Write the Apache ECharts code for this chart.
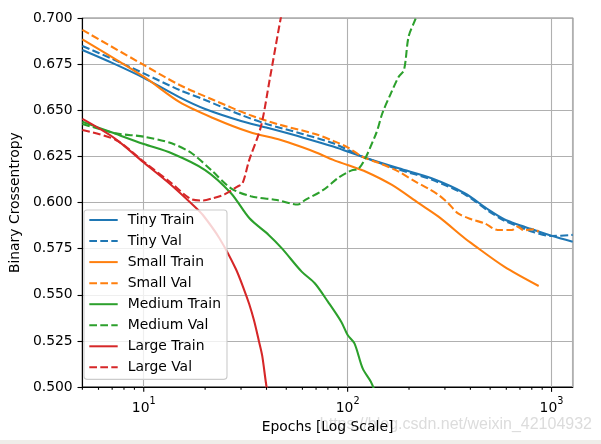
<!DOCTYPE html>
<html>
<head>
<meta charset="utf-8">
<script src="https://cdn.jsdelivr.net/npm/echarts@6/dist/echarts.min.js"></script>
<style>html,body{margin:0;padding:0;background:#fff;}#c{width:601px;height:444px;}</style>
</head>
<body>
<div id="c"></div>
<script>
// ---- data ----
const tinyEpochs = [5, 7, 10, 15, 20, 30, 40, 60, 85, 118, 178, 258, 375, 490, 585, 705, 790, 1000, 1270];
const tinyTrain  = [0.6828, 0.6758, 0.6677, 0.6571, 0.6508, 0.6443, 0.6407, 0.6354, 0.6304, 0.6249, 0.6186, 0.6132, 0.6051, 0.5962, 0.5910, 0.5876, 0.5858, 0.5820, 0.5788];
const tinyVal    = [0.6850, 0.6780, 0.6701, 0.6611, 0.6557, 0.6476, 0.6427, 0.6373, 0.6322, 0.6250, 0.6180, 0.6125, 0.6045, 0.5955, 0.5903, 0.5866, 0.5845, 0.5819, 0.5825];

const smallTrainEpochs = [5, 10, 15, 22, 33, 47, 60, 70, 85, 100, 123, 165, 223, 279, 375, 404, 586, 865];
const smallTrain       = [0.6886, 0.6683, 0.6545, 0.6458, 0.6383, 0.6340, 0.6300, 0.6272, 0.6232, 0.6204, 0.6168, 0.6096, 0.5997, 0.5924, 0.5807, 0.5780, 0.5653, 0.5548];
const smallValEpochs = [5, 10, 15, 22, 33, 47, 70, 85, 100, 118, 145, 178, 215, 250, 279, 311, 348, 404, 469, 544, 640, 680, 732, 818, 865];
const smallVal       = [0.6937, 0.6747, 0.6638, 0.6557, 0.6476, 0.6421, 0.6371, 0.6335, 0.6300, 0.6249, 0.6212, 0.6168, 0.6114, 0.6075, 0.6042, 0.5997, 0.5942, 0.5910, 0.5888, 0.5852, 0.5852, 0.5870, 0.5850, 0.5856, 0.5843];

const mediumTrainEpochs = [5, 7, 10, 13.7, 20, 26.8, 33, 41, 47.6, 59.5, 69, 80, 93, 100, 108, 118.5, 130, 134, 140];
const mediumTrain       = [0.6439, 0.6380, 0.6318, 0.6268, 0.6177, 0.6051, 0.5915, 0.5825, 0.5752, 0.5626, 0.5563, 0.5463, 0.5354, 0.5282, 0.5237, 0.5101, 0.5029, 0.4995, 0.4960];
const mediumValEpochs = [5, 7.3, 10, 13.7, 17.2, 21.4, 26.8, 33.5, 45, 57, 62, 76, 90, 100, 106, 112, 137, 148, 163, 178, 189, 199, 215, 225];
const mediumVal       = [0.6427, 0.6376, 0.6358, 0.6322, 0.6268, 0.6177, 0.6078, 0.6035, 0.6014, 0.5990, 0.6015, 0.6069, 0.6135, 0.6165, 0.6177, 0.6180, 0.6367, 0.6485, 0.6593, 0.6683, 0.6720, 0.6900, 0.6995, 0.7060];

const largeTrainEpochs = [5, 7.2, 10, 13.5, 17.8, 19.5, 23.5, 28.3, 31.1, 32.9, 34.7, 36.7, 38.1, 40, 42];
const largeTrain       = [0.6454, 0.6349, 0.6218, 0.6100, 0.5978, 0.5933, 0.5807, 0.5640, 0.5526, 0.5450, 0.5363, 0.5250, 0.5170, 0.5002, 0.4880];
const largeValEpochs = [5, 7.3, 10, 13.7, 17.2, 19.5, 22, 24.9, 28.8, 30.5, 32.9, 37.5, 41.5, 46.8, 49];
const largeVal       = [0.6394, 0.6340, 0.6222, 0.6105, 0.6018, 0.6012, 0.6025, 0.6045, 0.6087, 0.6105, 0.6231, 0.6410, 0.6670, 0.6991, 0.7100];

const majorTicks = [10, 100, 1000];
const minorTicks = [5, 6, 7, 8, 9, 20, 30, 40, 50, 60, 70, 80, 90, 200, 300, 400, 500, 600, 700, 800, 900];

const seriesNames = ['Tiny Train', 'Tiny Val', 'Small Train', 'Small Val', 'Medium Train', 'Medium Val', 'Large Train', 'Large Val'];
const xTitle = 'Epochs [Log Scale]';
const yTitle = 'Binary Crossentropy';
const watermark = 'https://blog.csdn.net/weixin_42104932';

// ---- build ----
const FONT = 'DejaVu Sans';
const C = {tiny: '#1f77b4', small: '#ff7f0e', medium: '#2ca02c', large: '#d62728'};
const LW = 2.08;
const DASH = [7.7, 3.3];
const pair = (xs, ys) => xs.map((x, i) => [x, ys[i]]);

function lineSeries(name, xs, ys, color, dashed) {
  return {
    name, type: 'line', data: pair(xs, ys), showSymbol: false, symbol: 'none',
    smooth: 0.3,
    clip: true, animation: false,
    lineStyle: {color, width: LW, type: dashed ? DASH : 'solid'},
    itemStyle: {color},
    emphasis: {disabled: true}
  };
}
function tickSeries(vals, len) {
  return {
    type: 'custom', data: vals.map(v => [v]), clip: false, silent: true, animation: false, z: 5,
    renderItem(params, api) {
      const p = api.coord([api.value(0), 0.5]);
      return {type: 'line', shape: {x1: p[0], y1: p[1], x2: p[0], y2: p[1] + len},
              style: {stroke: '#000', lineWidth: 1.1}};
    }
  };
}

const chart = echarts.init(document.getElementById('c'), null, {renderer: 'canvas'});
chart.setOption({
  animation: false,
  backgroundColor: '#fff',
  textStyle: {fontFamily: FONT},
  grid: {left: 76.7, right: 28.3, top: 18.3, bottom: 57, show: true, borderColor: '#000', borderWidth: 1.1, backgroundColor: 'transparent', containLabel: false},
  xAxis: {
    type: 'log', logBase: 10, min: 5, max: 1270,
    name: xTitle, nameLocation: 'middle', nameGap: 32,
    nameTextStyle: {fontFamily: FONT, fontSize: 13.9, color: '#000'},
    axisLine: {show: true, onZero: false, lineStyle: {color: '#000', width: 1.1}},
    axisTick: {show: false},
    splitLine: {show: true, lineStyle: {color: '#b0b0b0', width: 1.1}},
    minorTick: {show: false}, minorSplitLine: {show: false},
    axisLabel: {
      margin: 9, color: '#000', fontFamily: FONT, showMinLabel: true, showMaxLabel: true,
      formatter: function (v) {
        const l = Math.log10(v);
        if (Math.abs(l - Math.round(l)) > 1e-6) return '';
        return '{b|10}{s|' + Math.round(l) + '}';
      },
      rich: {
        b: {fontFamily: FONT, fontSize: 13.9, color: '#000', lineHeight: 19, verticalAlign: 'bottom'},
        s: {fontFamily: FONT, fontSize: 9.7, color: '#000', lineHeight: 11, verticalAlign: 'top'}
      }
    }
  },
  yAxis: {
    type: 'value', min: 0.5, max: 0.7, interval: 0.025,
    name: yTitle, nameLocation: 'middle', nameGap: 58,
    nameTextStyle: {fontFamily: FONT, fontSize: 13.9, color: '#000'},
    axisLine: {show: true, lineStyle: {color: '#000', width: 1.1}},
    axisTick: {show: true, length: 4.86, lineStyle: {color: '#000', width: 1.1}},
    splitLine: {show: true, lineStyle: {color: '#b0b0b0', width: 1.1}},
    axisLabel: {margin: 9.7, color: '#000', fontFamily: FONT, fontSize: 13.9, formatter: v => v.toFixed(3)}
  },
  legend: {
    data: seriesNames, orient: 'vertical', left: 84, top: 210,
    itemWidth: 28.4, itemHeight: 14, itemGap: 7.05,
    padding: [3, 6, 5, 4.3],
    backgroundColor: 'rgba(255,255,255,0.8)', borderColor: '#cccccc', borderWidth: 1.1, borderRadius: 3,
    selectedMode: false,
    itemStyle: {opacity: 0},
    textStyle: {fontFamily: FONT, fontSize: 13.9, color: '#000', lineHeight: 14, padding: [0, 0, 0, 5]}
  },
  graphic: [
    {type: 'rect', left: 0, top: 440, shape: {width: 601, height: 4}, style: {fill: '#efede9'}, silent: true},
    {type: 'text', right: 9, top: 417, z: -1, silent: true,
     style: {text: watermark, fontFamily: 'Liberation Sans', fontSize: 16, fill: '#dcdcdc'}}
  ],
  series: [
    lineSeries(seriesNames[0], tinyEpochs, tinyTrain, C.tiny, false),
    lineSeries(seriesNames[1], tinyEpochs, tinyVal, C.tiny, true),
    lineSeries(seriesNames[2], smallTrainEpochs, smallTrain, C.small, false),
    lineSeries(seriesNames[3], smallValEpochs, smallVal, C.small, true),
    lineSeries(seriesNames[4], mediumTrainEpochs, mediumTrain, C.medium, false),
    lineSeries(seriesNames[5], mediumValEpochs, mediumVal, C.medium, true),
    lineSeries(seriesNames[6], largeTrainEpochs, largeTrain, C.large, false),
    lineSeries(seriesNames[7], largeValEpochs, largeVal, C.large, true),
    tickSeries(majorTicks, 4.86),
    tickSeries(minorTicks, 2.8)
  ]
});
</script>
</body>
</html>
